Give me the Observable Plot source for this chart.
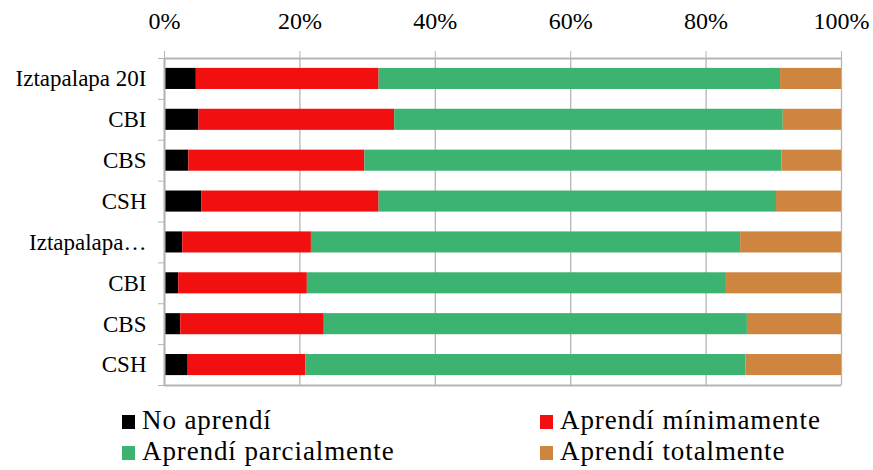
<!DOCTYPE html>
<html>
<head>
<meta charset="utf-8">
<script src="https://cdn.jsdelivr.net/npm/d3@7"></script>
<script src="https://cdn.jsdelivr.net/npm/@observablehq/plot@0.6"></script>
<style>
  body { margin: 0; background: #fff; }
  #chart { position: relative; width: 873px; height: 470px; font-family: "Liberation Serif", serif; }
  .legend { position: absolute; font-size: 27px; letter-spacing: 0.9px; color: #000; line-height: 30px; white-space: nowrap; }
  .legend span.sw { display: inline-block; width: 13px; height: 14px; margin-right: 7px; vertical-align: 0px; }
</style>
</head>
<body>
<div id="chart"></div>
<script>
const labels = ["Iztapalapa 20I", "CBI", "CBS", "CSH", "Iztapalapa…", "CBI", "CBS", "CSH"];
const series = ["No aprendí", "Aprendí mínimamente", "Aprendí parcialmente", "Aprendí totalmente"];
const colors = ["#000000", "#f20f0f", "#3cb371", "#cd853f"];
const noAprendi   = [4.7, 5.1, 3.6, 5.5, 2.7, 2.1, 2.4, 3.5];
const minimamente = [27.0, 28.9, 26.0, 26.2, 19.0, 19.0, 21.2, 17.4];
const parcialmente= [59.3, 57.4, 61.6, 58.7, 63.4, 61.9, 62.5, 65.0];
const totalmente  = [9.0, 8.6, 8.8, 9.6, 14.9, 17.0, 13.9, 14.1];
const xTicks = [0, 20, 40, 60, 80, 100];

const cols = [noAprendi, minimamente, parcialmente, totalmente];
const rows = [];
labels.forEach((lab, i) => {
  let acc = 0;
  cols.forEach((c, s) => {
    rows.push({i, y1: i, y2: i + 1, series: series[s], x1: acc, x2: acc + c[i]});
    acc += c[i];
  });
});

const grid = "#b5b5b5";
const plot = Plot.plot({
  width: 873,
  height: 395,
  marginTop: 58,
  marginBottom: 10,
  marginLeft: 164,
  marginRight: 32,
  style: {fontFamily: "'Liberation Serif', serif", background: "#fff", color: "#000"},
  x: {domain: [0, 100]},
  y: {domain: [0, 8], reverse: true},
  color: {domain: series, range: colors},
  marks: [
    Plot.ruleX(xTicks, {stroke: grid, strokeWidth: 1.3}),
    Plot.rect(rows, {x1: "x1", x2: "x2", y1: "y1", y2: "y2", fill: "series", insetTop: 9.9, insetBottom: 9.9}),
    Plot.ruleY([0], {stroke: grid, strokeWidth: 2}),
    Plot.ruleY([8], {stroke: grid, strokeWidth: 2}),
    Plot.ruleX([0], {stroke: grid, strokeWidth: 2}),
    Plot.axisX({anchor: "top", ticks: xTicks, tickFormat: d => d + "%", tickSize: 8, tickPadding: 22, fontSize: 24, stroke: grid, label: null}),
    Plot.axisY({anchor: "left", ticks: d3.range(0, 9), tickFormat: () => "", tickSize: 6, stroke: grid, label: null}),
    Plot.axisY({anchor: "left", ticks: d3.range(8).map(i => i + 0.5), tickFormat: d => labels[Math.floor(d)], tickSize: 0, tickPadding: 18, fontSize: 23, label: null})
  ]
});
const chart = document.getElementById("chart");
chart.appendChild(plot);

const legendPos = [[122, 405], [540, 405], [122, 436], [540, 436]];
series.forEach((s, k) => {
  const d = document.createElement("div");
  d.className = "legend";
  d.style.left = legendPos[k][0] + "px";
  d.style.top = legendPos[k][1] + "px";
  d.innerHTML = `<span class="sw" style="background:${colors[k]}"></span>${s}`;
  chart.appendChild(d);
});
</script>
</body>
</html>
